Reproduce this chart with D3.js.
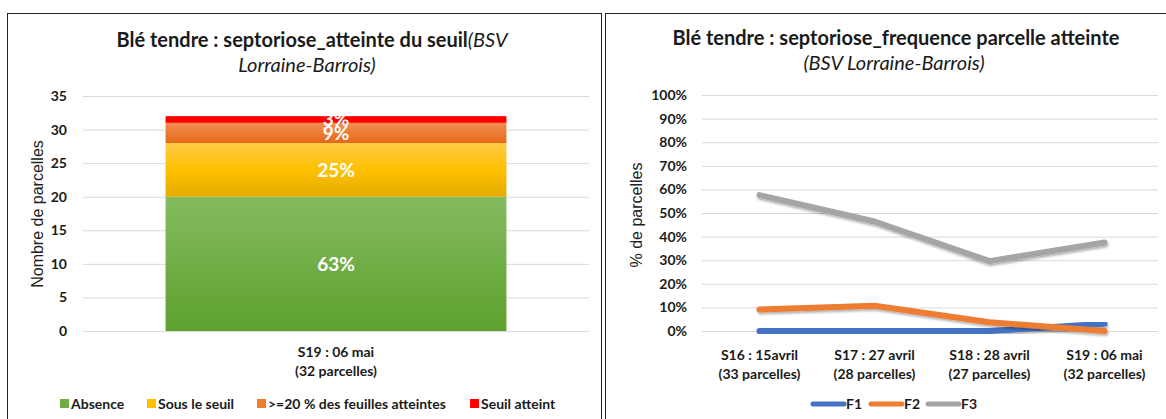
<!DOCTYPE html>
<html>
<head>
<meta charset="utf-8">
<script src="https://cdn.jsdelivr.net/npm/d3@7"></script>
<style>
  body { margin: 0; background: #fff; }
  svg { display: block; font-family: Lato, "Open Sans", sans-serif; }
</style>
</head>
<body>
<div id="wrapper"></div>
<script>
// ---- data: left chart (stacked bar)
const barCategories = ["S19 : 06 mai|(32 parcelles)"]
const barSeries = ["Absence", "Sous le seuil", ">=20 % des feuilles atteintes", "Seuil atteint"]
const barValues = [20, 8, 3, 1]
const barTicks = [0, 5, 10, 15, 20, 25, 30, 35]

// ---- data: right chart (lines)
const lineCategories = ["S16 : 15avril|(33 parcelles)", "S17 : 27 avril|(28 parcelles)",
                        "S18 : 28 avril|(27 parcelles)", "S19 : 06 mai|(32 parcelles)"]
const lineSeries = ["F1", "F2", "F3"]
const f1Values = [0, 0, 0, 3.1]
const f2Values = [9.1, 10.7, 3.7, 0]
const f3Values = [57.6, 46.4, 29.6, 37.5]
const lineTicks = [0, 10, 20, 30, 40, 50, 60, 70, 80, 90, 100]

const svg = d3.select("#wrapper").append("svg")
    .attr("width", 1166)
    .attr("height", 419)

const defs = svg.append("defs")
function grad(id, stops) {
  const g = defs.append("linearGradient").attr("id", id)
      .attr("x1", 0).attr("x2", 0).attr("y1", 0).attr("y2", 1)
  stops.forEach(([o, c]) => g.append("stop").attr("offset", o).attr("stop-color", c))
}
grad("gGreen", [[0, "#84bb5f"], [1, "#5ea12f"]])
grad("gYellow", [[0, "#ffcb47"], [0.5, "#ffc000"], [1, "#e4ac00"]])
grad("gOrange", [[0, "#f48e52"], [1, "#e3691a"]])
grad("gRed", [[0, "#ff0000"], [1, "#ff0000"]])
const barFills = ["url(#gGreen)", "url(#gYellow)", "url(#gOrange)", "url(#gRed)"]
const barLegendColors = ["#70ad47", "#ffc000", "#ed7d31", "#ff0000"]

// frames
svg.append("rect").attr("x", 7.5).attr("y", 13.5).attr("width", 594).attr("height", 410)
    .attr("fill", "none").attr("stroke", "#222").attr("stroke-width", 1)
svg.append("rect").attr("x", 605.5).attr("y", 13.5).attr("width", 570).attr("height", 410)
    .attr("fill", "none").attr("stroke", "#222").attr("stroke-width", 1)

// =============== LEFT CHART
{
  const left = { x0: 83, x1: 589, yTop: 96, yBot: 331 }
  const y = d3.scaleLinear().domain([0, 35]).range([left.yBot, left.yTop])
  const x = d3.scaleBand().domain(barCategories).range([left.x0, left.x1]).padding(0.195)
  const cx = x(barCategories[0]) + x.bandwidth() / 2

  const title = svg.append("text").attr("x", 312).attr("y", 47)
      .attr("text-anchor", "middle").attr("font-size", 20).attr("fill", "#1a1a1a")
  title.append("tspan").attr("font-weight", "bold").text("Blé tendre : septoriose_atteinte du seuil")
  title.append("tspan").attr("font-style", "italic").text("(BSV")
  svg.append("text").attr("x", 307).attr("y", 72)
      .attr("text-anchor", "middle").attr("font-size", 20).attr("font-style", "italic")
      .attr("fill", "#1a1a1a").text("Lorraine-Barrois)")

  const yAxis = svg.append("g").attr("transform", `translate(${left.x0},0)`)
      .call(d3.axisLeft(y).tickValues(barTicks).tickSize(-(left.x1 - left.x0)).tickPadding(16))
  yAxis.select(".domain").remove()
  yAxis.selectAll(".tick line").attr("stroke", "#d9d9d9")
  yAxis.selectAll(".tick text").attr("font-size", 14).attr("font-weight", "bold").attr("fill", "#1a1a1a")
      .attr("font-family", "Lato")

  svg.append("text").attr("transform", "translate(43,214) rotate(-90)")
      .attr("text-anchor", "middle").attr("font-size", 16).attr("font-family", "Liberation Sans")
      .attr("fill", "#222").text("Nombre de parcelles")

  const total = d3.sum(barValues)
  const stacked = []
  let acc = 0
  barValues.forEach((v, i) => { stacked.push({ i, y0: acc, y1: acc + v, v }); acc += v })

  svg.selectAll(".seg").data(stacked).enter().append("rect")
      .attr("class", "seg")
      .attr("x", x(barCategories[0]))
      .attr("width", x.bandwidth())
      .attr("y", d => y(d.y1))
      .attr("height", d => y(d.y0) - y(d.y1))
      .attr("fill", d => barFills[d.i])

  svg.selectAll(".segLabel").data(stacked).enter().append("text")
      .attr("class", "segLabel")
      .attr("x", cx)
      .attr("y", d => y((d.y0 + d.y1) / 2))
      .attr("dy", "0.36em")
      .attr("text-anchor", "middle").attr("font-size", 19).attr("font-weight", "bold")
      .attr("fill", "#fff")
      .text(d => Math.round(d.v / total * 100) + "%")

  const xl = svg.append("text").attr("text-anchor", "middle").attr("font-size", 14)
      .attr("font-weight", "bold").attr("fill", "#1a1a1a")
  barCategories[0].split("|").forEach((s, k) => {
    xl.append("tspan").attr("x", cx).attr("y", 357 + k * 19).text(s)
  })

  const legX = [60, 147, 257, 470]
  const leg = svg.selectAll(".bleg").data(barSeries).enter().append("g")
      .attr("transform", (d, i) => `translate(${legX[i]},404)`)
  leg.append("rect").attr("x", 0).attr("y", -5).attr("width", 9).attr("height", 9)
      .attr("fill", (d, i) => barLegendColors[i])
  leg.append("text").attr("x", 11).attr("y", 5).attr("font-size", 14).attr("font-weight", "bold")
      .attr("fill", "#1a1a1a").text(d => d)
}

// =============== RIGHT CHART
{
  const r = { x0: 702, x1: 1162, yTop: 95, yBot: 331 }
  const y = d3.scaleLinear().domain([0, 100]).range([r.yBot, r.yTop])
  const x = d3.scalePoint().domain(lineCategories).range([r.x0, r.x1]).padding(0.5)

  svg.append("text").attr("x", 896).attr("y", 45)
      .attr("text-anchor", "middle").attr("font-size", 20).attr("font-weight", "bold")
      .attr("fill", "#1a1a1a").text("Blé tendre : septoriose_frequence parcelle atteinte")
  svg.append("text").attr("x", 894).attr("y", 70)
      .attr("text-anchor", "middle").attr("font-size", 20).attr("font-style", "italic")
      .attr("fill", "#1a1a1a").text("(BSV Lorraine-Barrois)")

  const yAxis = svg.append("g").attr("transform", `translate(${r.x0},0)`)
      .call(d3.axisLeft(y).tickValues(lineTicks).tickFormat(d => d + "%")
        .tickSize(-(r.x1 - r.x0 - 4)).tickPadding(15))
  yAxis.select(".domain").remove()
  yAxis.selectAll(".tick line").attr("stroke", "#d9d9d9")
  yAxis.selectAll(".tick text").attr("font-size", 14).attr("font-weight", "bold").attr("fill", "#1a1a1a")
      .attr("font-family", "Lato")

  svg.append("text").attr("transform", "translate(642,215) rotate(-90)")
      .attr("text-anchor", "middle").attr("font-size", 16).attr("font-family", "Liberation Sans")
      .attr("fill", "#222").text("% de parcelles")

  const xl = svg.selectAll(".xcat").data(lineCategories).enter().append("text")
      .attr("class", "xcat").attr("text-anchor", "middle").attr("font-size", 14)
      .attr("font-weight", "bold").attr("fill", "#1a1a1a")
  xl.each(function (d) {
    d.split("|").forEach((s, k) => {
      d3.select(this).append("tspan").attr("x", x(d)).attr("y", 360 + k * 19).text(s)
    })
  })

  const colors = ["#4472c4", "#ed7d31", "#a5a5a5"]
  const seriesData = [f1Values, f2Values, f3Values]
  const filter = defs.append("filter").attr("id", "shadow").attr("x", "-10%").attr("y", "-20%")
      .attr("width", "120%").attr("height", "160%")
  filter.append("feDropShadow").attr("dx", 1).attr("dy", 2).attr("stdDeviation", 1.3)
      .attr("flood-color", "#000").attr("flood-opacity", 0.3)

  const line = d3.line().x((d, i) => x(lineCategories[i])).y(d => y(d))
  svg.selectAll(".series").data(seriesData).enter().append("path")
      .attr("class", "series")
      .attr("d", line)
      .attr("fill", "none")
      .attr("stroke", (d, i) => colors[i])
      .attr("stroke-width", 6)
      .attr("stroke-linecap", "round")
      .attr("stroke-linejoin", "round")
      .attr("filter", "url(#shadow)")

  const legX = [813, 871, 928]
  const leg = svg.selectAll(".lleg").data(lineSeries).enter().append("g")
      .attr("transform", (d, i) => `translate(${legX[i]},404)`)
  leg.append("line").attr("x1", 0).attr("x2", 31).attr("y1", 0).attr("y2", 0)
      .attr("stroke", (d, i) => colors[i]).attr("stroke-width", 5).attr("stroke-linecap", "round")
  leg.append("text").attr("x", 33).attr("y", 5).attr("font-size", 14).attr("font-weight", "bold")
      .attr("fill", "#1a1a1a").text(d => d)
}
</script>
</body>
</html>
